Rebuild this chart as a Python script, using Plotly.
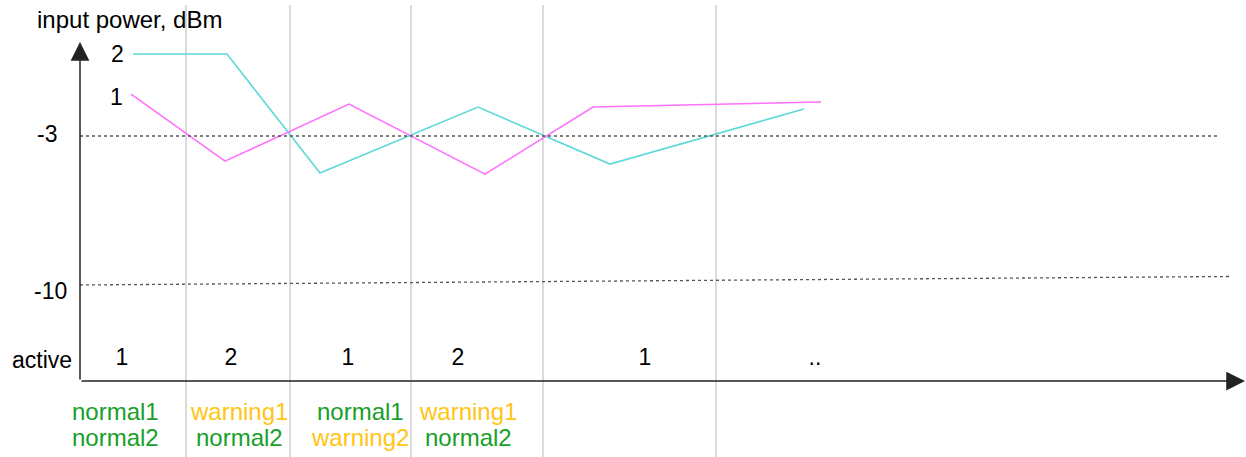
import plotly.graph_objects as go

W, H = 1246, 457

# ---- data (time in arbitrary units, power in dBm) ----
t_ch2 = [133, 227, 320, 478, 610, 804]
p_ch2 = [0.85, 0.85, -4.74, -1.64, -4.32, -1.73]
t_ch1 = [131, 225, 349, 485, 593, 821]
p_ch1 = [-1.03, -4.18, -1.50, -4.79, -1.64, -1.40]

thresholds = [-3, -10]
threshold_labels = ["-3", "-10"]

switch_times = [186, 290, 411, 543, 716]

active_times = [122, 231, 348, 458, 645, 815]
active_labels = ["1", "2", "1", "2", "1", ".."]

status_times = [115, 239, 360, 468]
status_line1 = ["normal1", "warning1", "normal1", "warning1"]
status_line2 = ["normal2", "normal2", "warning2", "normal2"]

# ---- scales: full-figure plot area ----
Y_TOP = 3.389
PX_PER_DB = 149 / 7.0
Y_BOT = Y_TOP - H / PX_PER_DB


def px2db(py):
    return Y_TOP - py / PX_PER_DB


FONT = "Liberation Sans, Arial, sans-serif"
FS = 24
GREEN = "#18a028"
YELLOW = "#ffc514"
CYAN = "#5fd8d8"
MAGENTA = "#ff70ff"

fig = go.Figure()

# vertical switch lines
for t in switch_times:
    fig.add_shape(type="line", xref="x", yref="y", x0=t, x1=t,
                  y0=px2db(5), y1=px2db(457), line=dict(color="#d2d2d2", width=1.6), layer="below")

# threshold dotted lines
fig.add_shape(type="line", xref="x", yref="y", x0=80, x1=1218, y0=thresholds[0], y1=thresholds[0],
              line=dict(color="#555555", width=1.3, dash="3px,3px"))
fig.add_shape(type="line", xref="x", yref="y", x0=80, x1=1230, y0=thresholds[1], y1=thresholds[1] + 0.4,
              line=dict(color="#555555", width=1.3, dash="3px,3px"))

# power traces
fig.add_trace(go.Scatter(x=t_ch2, y=p_ch2, mode="lines", line=dict(color=CYAN, width=1.6),
                         hoverinfo="skip", showlegend=False))
fig.add_trace(go.Scatter(x=t_ch1, y=p_ch1, mode="lines", line=dict(color=MAGENTA, width=1.6),
                         hoverinfo="skip", showlegend=False))

# active row
fig.add_trace(go.Scatter(x=active_times, y=[px2db(359)] * len(active_times), mode="text",
                         text=active_labels, textposition="middle center",
                         textfont=dict(family=FONT, size=23, color="#000"),
                         hoverinfo="skip", showlegend=False))

# status rows
for t, s1, s2 in zip(status_times, status_line1, status_line2):
    for s, py in ((s1, 411), (s2, 437)):
        fig.add_annotation(x=t, y=px2db(py), xref="x", yref="y", text=s, showarrow=False,
                           xanchor="center", yanchor="middle",
                           font=dict(family=FONT, size=FS, color=YELLOW if s.startswith("warning") else GREEN))

# axes with arrows
AX_Y = px2db(381)
fig.add_annotation(x=80, y=px2db(42), ax=80, ay=AX_Y, xref="x", yref="y", axref="x", ayref="y",
                   text="", showarrow=True, arrowhead=2, arrowsize=2.5, arrowwidth=1.5, arrowcolor="#222")
fig.add_annotation(x=1245, y=AX_Y, ax=80, ay=AX_Y, xref="x", yref="y", axref="x", ayref="y",
                   text="", showarrow=True, arrowhead=2, arrowsize=2.5, arrowwidth=1.5, arrowcolor="#222")

# text labels
def label(txt, x, py, anchor="left", size=FS):
    fig.add_annotation(x=x, y=px2db(py), xref="x", yref="y", text=txt, showarrow=False,
                       xanchor=anchor, yanchor="middle", font=dict(family=FONT, size=size, color="#000"))

label("input power, dBm", 35, 19, size=24)
label("2", 126, 54, "right", size=23)
label("1", 125, 97, "right", size=23)
label(threshold_labels[0], 35, 134, size=23)
label(threshold_labels[1], 32, 291, size=23)
label("active", 10, 360, size=23)

fig.update_layout(
    width=W, height=H,
    margin=dict(l=0, r=0, t=0, b=0),
    paper_bgcolor="white", plot_bgcolor="white",
    xaxis=dict(range=[0, W], visible=False, fixedrange=True),
    yaxis=dict(range=[Y_BOT, Y_TOP], visible=False, fixedrange=True),
    showlegend=False,
)

fig.write_html("out.html", config={"displayModeBar": False},
               post_script="document.body.style.margin='0';document.body.style.overflow='hidden';")
